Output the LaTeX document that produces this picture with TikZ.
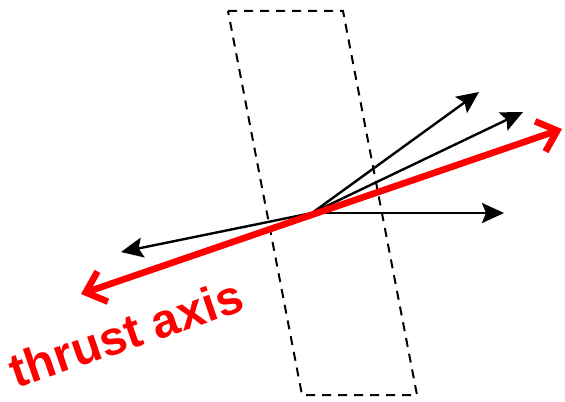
\documentclass[tikz,border=0pt]{standalone}
\usepackage{fontspec}
\setmainfont{Liberation Sans}
\usetikzlibrary{arrows.meta}
\begin{document}
\begin{tikzpicture}[x=0.5pt,y=-0.5pt,font=\bfseries,
  vec/.style={line width=1.2pt,-{Stealth[length=11pt,width=10pt,inset=2pt]}},
  axis/.style={red,line width=3.3pt,{Straight Barb[length=9pt,width=16pt]}-{Straight Barb[length=9pt,width=16pt]}}]
\useasboundingbox (0,0) rectangle (565,401);
\draw[line width=1pt,dash pattern=on 4.5pt off 3.5pt] (228,11) -- (343,11) -- (417,395) -- (302,395) -- cycle;
\coordinate (o) at (312,213);
\coordinate (v1) at (479,92);
\coordinate (v2) at (523,112);
\coordinate (v3) at (504,213);
\coordinate (v4) at (121,252);
\coordinate (ta) at (81,294);
\coordinate (tb) at (562,129);
\draw[vec] (o) -- (v1);
\draw[vec] (o) -- (v2);
\draw[vec] (o) -- (v3);
\draw[vec] (o) -- (v4);
\draw[axis] (ta) -- (tb);
\node[red,rotate=19,font=\fontsize{24}{24}\selectfont\bfseries] (lbl) at (126,333) {thrust axis};
\end{tikzpicture}
\end{document}
